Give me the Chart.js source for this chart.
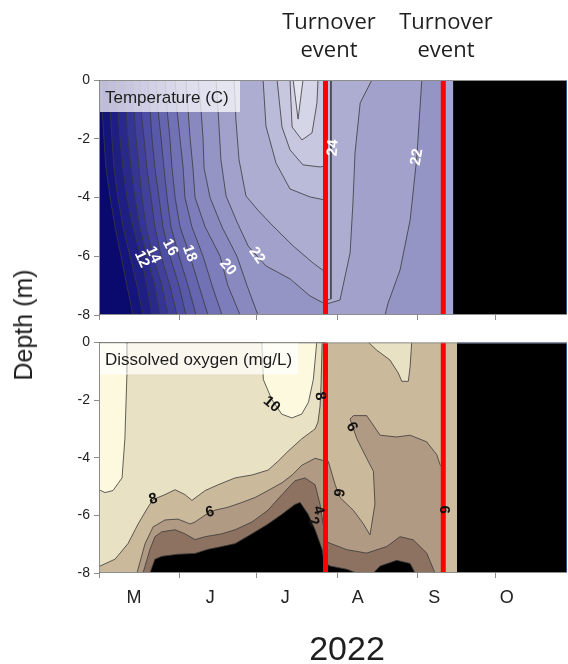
<!DOCTYPE html>
<html><head><meta charset="utf-8">
<script src="https://cdn.jsdelivr.net/npm/chart.js@4.4.1/dist/chart.umd.min.js"></script>
<style>
html,body{margin:0;padding:0;background:#fff;width:568px;height:664px;overflow:hidden;}
#wrap{position:relative;width:568px;height:664px;}
canvas{position:absolute;left:0;}
.t{position:absolute;color:#1e1e1e;white-space:nowrap;}
.turn{font-family:"Open Sans",sans-serif;font-size:22px;line-height:28px;text-align:center;width:140px;top:6px;}
</style></head><body>
<div id="wrap">
<canvas id="c1" width="568" height="330" style="top:0"></canvas>
<canvas id="c2" width="568" height="334" style="top:330px"></canvas>
<div class="t turn" style="left:259px;">Turnover<br>event</div>
<div class="t turn" style="left:376px;">Turnover<br>event</div>
<div class="t" style="left:347px;top:631px;transform:translateX(-50%);font-family:'Liberation Sans',Arial,sans-serif;font-size:34px;line-height:34px;">2022</div>
<div class="t" style="left:23px;top:325px;transform:translate(-50%,-50%) rotate(-90deg);font-family:'Liberation Sans',Arial,sans-serif;font-size:25px;line-height:28px;">Depth (m)</div>
</div>
<script>
// ---------------- axes ----------------
const monthStartDays = [0, 31, 61, 92, 123, 153];          // days since 1 May 2022
const monthLetters = ['M', 'J', 'J', 'A', 'S', 'O'];
const monthLetterDays = [13.5, 43, 72, 100, 129.5, 157.5];
const depthTicks = [0, -2, -4, -6, -8];
const dayMax = 180.8;
const turnoverDays = [87.5, 133.0];
const tempDataEnd = 136.8;
const doDataEnd = 138.3;

// ---------------- temperature (isotherms: day at each depth) ----------------
const isoDepths = [0, -1, -2, -3, -4, -5, -6, -7, -8];
const isoLevels = [10, 11, 12, 13, 14, 15, 16, 17, 18, 19, 20, 21];
const isoDays = [
  [0.8, 1.2, 1.9, 2.7, 4.3, 6.2, 8.5, 10.8, 13.1],
  [3.9, 4.3, 5.0, 5.8, 7.3, 9.3, 12.0, 14.7, 17.0],
  [7.0, 7.3, 8.1, 9.3, 10.8, 13.1, 16.2, 18.5, 20.5],
  [10.0, 10.4, 11.2, 12.4, 13.9, 15.8, 18.5, 21.6, 23.6],
  [13.1, 13.5, 14.3, 15.5, 16.6, 18.2, 20.9, 24.3, 26.7],
  [15.8, 16.2, 17.4, 18.5, 20.1, 21.6, 24.0, 27.4, 30.1],
  [18.9, 19.7, 20.5, 21.6, 23.2, 24.7, 27.4, 30.9, 33.6],
  [22.0, 22.8, 24.0, 25.1, 26.3, 27.8, 30.9, 34.4, 37.5],
  [25.5, 26.3, 27.4, 28.2, 29.4, 31.3, 35.2, 38.6, 42.1],
  [29.4, 30.1, 31.3, 32.5, 33.2, 35.9, 40.2, 43.7, 47.5],
  [33.6, 34.4, 35.2, 36.3, 37.1, 41.0, 46.8, 49.8, 54.5],
  [38.3, 39.4, 40.2, 40.6, 42.9, 47.5, 53.3, 57.2, 61.4]
];
const iso22 = [[45.2,0],[46.0,-1.02],[47.1,-2.72],[49.1,-3.95],[53.3,-4.83],[57.6,-5.65],[61.0,-5.99],[64.5,-6.33],[73.8,-6.77],[81.5,-7.35],[87.5,-7.63]];
const iso23 = [[52.2,0],[52.9,-1.36],[54.1,-2.72],[56.8,-3.95],[61.4,-4.43],[66.1,-4.87],[75.0,-5.65],[82.7,-6.23],[87.5,-6.54]];
const iso24 = [[63.4,0],[64.5,-1.57],[68.4,-2.83],[73.8,-3.71],[81.5,-3.98],[87.5,-4.09]];
const iso25 = [[68.8,0],[70.7,-1.6],[73.8,-2.38],[78.8,-2.89],[85.4,-2.96],[87.5,-2.93]];
const iso26 = [[73.8,0],[74.6,-1.6],[78.4,-2.04],[82.3,-1.8],[84.2,-0.78],[84.6,0]];
const iso27 = [[75.0,0],[76.9,-1.33],[78.8,0]];
const augIso22 = [[124.7,0],[122.8,-2.62],[120.2,-4.77],[116.3,-6.47],[111.7,-7.59],[110.5,-8]];
const augIso23 = [[105.4,0],[100.9,-0.78],[98.9,-2.49],[98.1,-4.19],[97.0,-5.89],[93.1,-7.49],[89.3,-7.59],[87.5,-7.63]];
const augIso24 = [[89.6,0],[89.6,-7.45],[87.5,-7.5]];

const tempLabelText  = ['12', '14', '16', '18', '20', '22', '24', '22'];
const tempLabelDay   = [16.5, 21.0, 27.5, 35.0, 49.8, 61.0, 90.4, 122.8];
const tempLabelDepth = [-6.1, -5.95, -5.7, -5.9, -6.37, -5.97, -2.31, -2.62];
const tempLabelAngle = [65, 65, 62, 70, 50, 55, -85, -80];

// ---------------- dissolved oxygen (contours: [day, depth]) ----------------
const do2Line = [[19.7,-8],[21.6,-7.52],[24.3,-7.42],[30.5,-7.35],[37.1,-7.32],[42.1,-7.18],[47.5,-7.08],[52.6,-6.98],[59.1,-6.64],[65.3,-6.30],[70.7,-5.96],[75.7,-5.62],[77.7,-5.55],[80.8,-5.96],[83.5,-6.50],[86.2,-7.18],[87.3,-7.86],[87.5,-7.9]];
const do4Line = [[17.0,-8],[19.7,-7.18],[21.6,-6.74],[24.3,-6.57],[29.4,-6.50],[33.2,-6.64],[37.1,-6.84],[41.0,-6.74],[47.5,-6.64],[52.6,-6.50],[59.1,-6.23],[65.3,-5.82],[70.7,-5.28],[75.7,-4.80],[79.6,-4.70],[83.5,-4.94],[85.4,-5.62],[86.6,-6.30],[87.5,-6.54]];
const do6Line = [[14.7,-8],[15.1,-7.86],[17.8,-6.98],[20.9,-6.40],[25.5,-6.16],[30.5,-6.13],[35.2,-6.30],[37.1,-6.23],[41.0,-5.99],[44.8,-5.82],[49.8,-5.72],[55.3,-5.55],[60.3,-5.38],[65.3,-5.14],[70.7,-4.87],[74.6,-4.60],[78.4,-4.26],[83.5,-4.02],[87.5,-4.12]];
const do8Line = [[0,-7.76],[0.4,-7.76],[6.2,-7.52],[11.2,-6.98],[15.1,-6.30],[18.9,-5.72],[20.9,-5.45],[25.5,-5.28],[29.4,-5.11],[33.2,-5.28],[35.9,-5.48],[41.0,-5.14],[46.0,-4.94],[52.6,-4.70],[59.1,-4.60],[65.3,-4.43],[69.2,-4.12],[73.0,-3.78],[78.4,-3.34],[83.5,-3.0],[84.6,-2.76],[85.4,-2.21],[85.8,-1.43],[86.2,0]];
const do10Left = [[0,0],[10.8,0],[10.8,-1.06],[10.0,-3.34],[8.9,-4.70],[5.4,-5.14],[2.3,-5.21],[0,-5.11]];
const do10Top = [[62.9,0],[63.5,-1.29],[66.7,-1.97],[70.6,-2.49],[74.5,-2.62],[78.3,-2.49],[80.9,-2.08],[82.8,-1.29],[83.5,-0.61],[84.1,0]];
const augDo6Curve = [[87.5,-4.12],[88.6,-4.13],[91.2,-4.93],[93.1,-5.38],[98.3,-5.83],[102.1,-6.29],[104.7,-6.68],[106.6,-5.61],[106.0,-4.47],[103.4,-4.02],[99.6,-3.34],[97.0,-2.66],[98.3,-2.54],[103.4,-2.54],[108.6,-3.22],[115.0,-3.28],[120.2,-3.22],[126.6,-3.45],[130.5,-3.9],[131.8,-4.25],[133.0,-4.36]];
const augDo4Line = [[87.5,-6.9],[89.3,-6.97],[95.7,-7.19],[103.4,-7.31],[111.2,-7.08],[116.3,-6.74],[121.4,-6.85],[126.6,-7.31],[129.2,-7.87],[129.8,-8]];
const augDoLow1 = [[87.5,-7.66],[89.3,-7.76],[95.7,-7.87],[99.6,-8],[87.5,-8]];
const augDoLow2 = [[106.0,-8],[108.6,-7.76],[115.0,-7.56],[120.2,-7.67],[122.1,-8]];
const augDo8 = [[104.1,0],[107.3,-0.27],[112.4,-0.61],[115.6,-1.06],[117.0,-1.35],[119.5,-1.35],[120.2,-0.84],[120.8,0]];

const doLabelText  = ['10', '8', '8', '6', '4', '2', '6', '6', '6'];
const doLabelDay   = [66.7, 85.4, 20.9, 42.9, 84.7, 82.8, 97.6, 92.5, 133.3];
const doLabelDepth = [-2.15, -1.86, -5.44, -5.89, -5.82, -6.23, -2.94, -5.21, -5.8];
const doLabelAngle = [40, 80, -15, -15, 75, 60, 60, 100, 90];

// ---------------- colours ----------------
const tempBand = {9:'#0a0a6e',10:'#14147a',11:'#1e1e83',12:'#29298b',13:'#353594',14:'#41419c',15:'#4d4da3',16:'#5959aa',17:'#6565b0',18:'#7171b6',19:'#7d7dbb',20:'#8989c0',21:'#9595c5',22:'#a1a1cb',23:'#adadd2',24:'#babad9',25:'#c7c7e0',26:'#d5d5e8',27:'#e5e5f0'};
const doBand = {lt2:'#000000', b2:'#8d7261', b4:'#b19a84', b6:'#cab99b', b8:'#e9e1c3', b10:'#fcf9df'};
const lineCol = '#3a3a3a';
const FONT = "'Liberation Sans', Arial, sans-serif";

// ---------------- helpers ----------------
const P = a => a.map(([x, y]) => ({x, y}));
function poly(points, color, border) {
  return {data: P(points), showLine: true, fill: 'shape', backgroundColor: color,
    borderColor: border ? lineCol : 'rgba(0,0,0,0)', borderWidth: border ? 0.8 : 1,
    pointRadius: 0, pointHoverRadius: 0, tension: 0};
}
function rect(x0, x1, color, borderColor) {
  const d = poly([[x0,0],[x1,0],[x1,-8],[x0,-8]], color, false);
  if (borderColor) { d.borderColor = borderColor; d.borderWidth = 1.5; }
  return d;
}
function vline(x) {
  return {data: P([[x,0],[x,-8]]), showLine: true, fill: false, borderColor: '#ff0000',
    borderWidth: 5, borderCapStyle: 'butt', pointRadius: 0, pointHoverRadius: 0};
}
function ordered(list) { return list.map((d, i) => Object.assign(d, {order: list.length - i})); }

const r1 = turnoverDays[0], r2 = turnoverDays[1];

// ---------------- temperature datasets ----------------
const tempSets = [];
tempSets.push(rect(0, r1, tempBand[9]));
isoLevels.forEach((L, i) => {
  const line = isoDays[i].map((d, k) => [d, isoDepths[k]]);
  tempSets.push(poly(line.concat([[r1, -8], [r1, 0]]), tempBand[L], true));
});
[[iso22,22],[iso23,23],[iso24,24],[iso25,25]].forEach(([line, L]) => {
  tempSets.push(poly(line.concat([[r1, 0]]), tempBand[L], true));
});
tempSets.push(poly(iso26, tempBand[26], true));
tempSets.push(poly(iso27, tempBand[27], true));
tempSets.push(rect(r1, tempDataEnd, tempBand[21]));
tempSets.push(poly([[r1,0]].concat(augIso22, [[r1,-8]]), tempBand[22], true));
tempSets.push(poly([[r1,0]].concat(augIso23), tempBand[23], true));
tempSets.push(poly([[r1,0]].concat(augIso24), tempBand[24], true));
tempSets.push(rect(r2, tempDataEnd, '#a3a7d5'));
tempSets.push(rect(tempDataEnd, dayMax, '#000000', '#4a72b8'));
tempSets.push(vline(r1));
tempSets.push(vline(r2));

// ---------------- DO datasets ----------------
const doSets = [];
const closeA = [[r1, 0], [0, 0], [0, -8]];
doSets.push(rect(0, r1, doBand.lt2));
doSets.push(poly(do2Line.concat(closeA), doBand.b2, true));
doSets.push(poly(do4Line.concat(closeA), doBand.b4, true));
doSets.push(poly(do6Line.concat(closeA), doBand.b6, true));
doSets.push(poly(do8Line.concat([[0, 0]]), doBand.b8, true));
doSets.push(poly(do10Left, doBand.b10, true));
doSets.push(poly(do10Top, doBand.b10, true));
doSets.push(rect(r1, r2, doBand.b6));
doSets.push(poly(augDo6Curve.concat([[r2, -8], [r1, -8]]), doBand.b4, true));
doSets.push(poly(augDo4Line.concat([[r1, -8]]), doBand.b2, true));
doSets.push(poly(augDoLow1, doBand.lt2, true));
doSets.push(poly(augDoLow2, doBand.lt2, true));
doSets.push(poly(augDo8, doBand.b8, true));
doSets.push(rect(r2, doDataEnd, '#cdbd9f'));
doSets.push(rect(doDataEnd, dayMax, '#000000', '#4a72b8'));
doSets.push(vline(r1));
doSets.push(vline(r2));

// ---------------- overlay plugin ----------------
function overlay(id, title, boxW, text, days, depths, angles, color) {
  return {
    id: id,
    afterDatasetsDraw(chart) {
      const {ctx, chartArea: a, scales: {x, y}} = chart;
      ctx.save();
      // frame
      ctx.strokeStyle = '#8c8c8c'; ctx.lineWidth = 1;
      ctx.beginPath();
      ctx.moveTo(a.right, a.top + 0.5); ctx.lineTo(a.left + 0.5, a.top + 0.5);
      ctx.lineTo(a.left + 0.5, a.bottom - 0.5); ctx.lineTo(a.right, a.bottom - 0.5);
      ctx.stroke();
      // contour labels
      ctx.font = 'bold 15px ' + FONT;
      ctx.fillStyle = color; ctx.textAlign = 'center'; ctx.textBaseline = 'middle';
      text.forEach((t, i) => {
        ctx.save();
        ctx.translate(x.getPixelForValue(days[i]), y.getPixelForValue(depths[i]));
        ctx.rotate(angles[i] * Math.PI / 180);
        ctx.fillText(t, 0, 0);
        ctx.restore();
      });
      // title box
      ctx.fillStyle = 'rgba(255,255,255,0.72)';
      ctx.fillRect(a.left + 1, a.top + 1, boxW, 31);
      ctx.fillStyle = '#1e1e1e'; ctx.font = '17px ' + FONT;
      ctx.textAlign = 'left'; ctx.textBaseline = 'alphabetic';
      ctx.fillText(title, a.left + 6, a.top + 23);
      ctx.restore();
    }
  };
}

function options(xHeight, padTop, withLetters) {
  return {
    responsive: false, animation: false, events: [],
    layout: {padding: {top: padTop, right: 1, left: 0, bottom: 0}},
    plugins: {legend: {display: false}, tooltip: {enabled: false}},
    scales: {
      x: {
        type: 'linear', min: 0, max: dayMax,
        afterBuildTicks: ax => {
          const v = withLetters ? monthStartDays.concat(monthLetterDays) : monthStartDays.slice();
          ax.ticks = v.sort((p, q) => p - q).map(value => ({value}));
        },
        afterFit: sc => { sc.height = xHeight; },
        grid: {display: true, drawOnChartArea: false, drawTicks: true, tickLength: 5,
          color: 'rgba(0,0,0,0)',
          tickColor: c => (c.tick && monthStartDays.includes(c.tick.value)) ? '#8c8c8c' : 'rgba(0,0,0,0)'},
        border: {display: false},
        ticks: {autoSkip: false, maxRotation: 0, minRotation: 0, padding: 9, color: '#222',
          font: {family: FONT, size: 18},
          callback: v => { const i = monthLetterDays.indexOf(v); return (withLetters && i >= 0) ? monthLetters[i] : ''; }}
      },
      y: {
        type: 'linear', min: -8, max: 0,
        afterBuildTicks: ax => { ax.ticks = depthTicks.map(value => ({value})); },
        afterFit: sc => { sc.width = 99; },
        grid: {display: true, drawOnChartArea: false, drawTicks: true, tickLength: 5,
          color: 'rgba(0,0,0,0)', tickColor: '#8c8c8c'},
        border: {display: false},
        ticks: {padding: 4, color: '#222', font: {family: FONT, size: 14}, callback: v => String(v)}
      }
    }
  };
}

new Chart(document.getElementById('c1'), {
  type: 'scatter',
  data: {datasets: ordered(tempSets)},
  options: options(15, 80, false),
  plugins: [overlay('ovT', 'Temperature (C)', 140, tempLabelText, tempLabelDay, tempLabelDepth, tempLabelAngle, '#ffffff')]
});
new Chart(document.getElementById('c2'), {
  type: 'scatter',
  data: {datasets: ordered(doSets)},
  options: options(91, 8, true),
  plugins: [overlay('ovD', 'Dissolved oxygen (mg/L)', 198, doLabelText, doLabelDay, doLabelDepth, doLabelAngle, '#111111')]
});
</script>
</body></html>
